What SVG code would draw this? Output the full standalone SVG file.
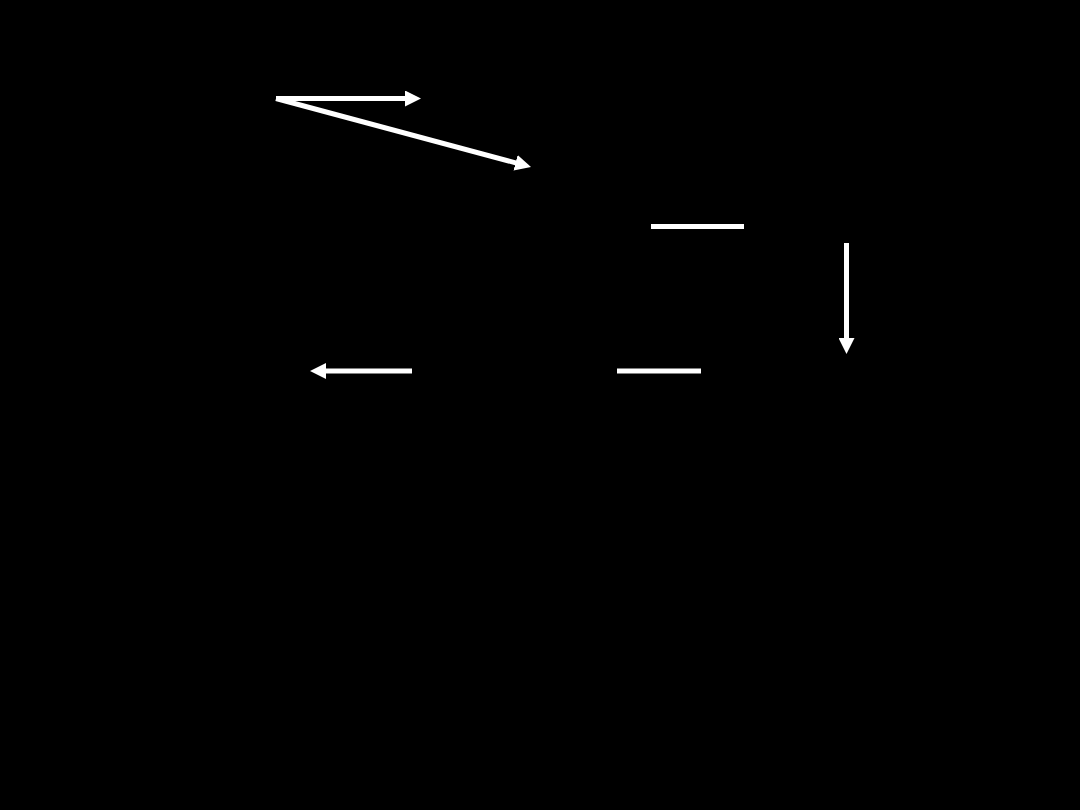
<svg xmlns="http://www.w3.org/2000/svg" width="1080" height="810" viewBox="0 0 1080 810">
  <defs>
    <style>
      .conn { stroke: #ffffff; stroke-width: 5; fill: none; stroke-linecap: butt; }
      .bar { stroke: #ffffff; stroke-width: 5; fill: none; }
    </style>
    <marker id="head" markerUnits="userSpaceOnUse" markerWidth="16" markerHeight="16" refX="2" refY="8" orient="auto">
      <path d="M0,0 L16,8 L0,16 z" fill="#ffffff"/>
    </marker>
  </defs>
  <rect x="0" y="0" width="1080" height="810" fill="#000000"/>
  <g id="connectors">
    <line class="conn" x1="276" y1="98.5" x2="407" y2="98.5" marker-end="url(#head)"/>
    <line class="conn" x1="276" y1="98.5" x2="517.5" y2="163.3" marker-end="url(#head)"/>
    <line class="bar" x1="651" y1="226.5" x2="744" y2="226.5"/>
    <line class="conn" x1="846.5" y1="243" x2="846.5" y2="340" marker-end="url(#head)"/>
    <line class="bar" x1="617" y1="371" x2="701" y2="371"/>
    <line class="conn" x1="412" y1="371" x2="324" y2="371" marker-end="url(#head)"/>
  </g>
</svg>
